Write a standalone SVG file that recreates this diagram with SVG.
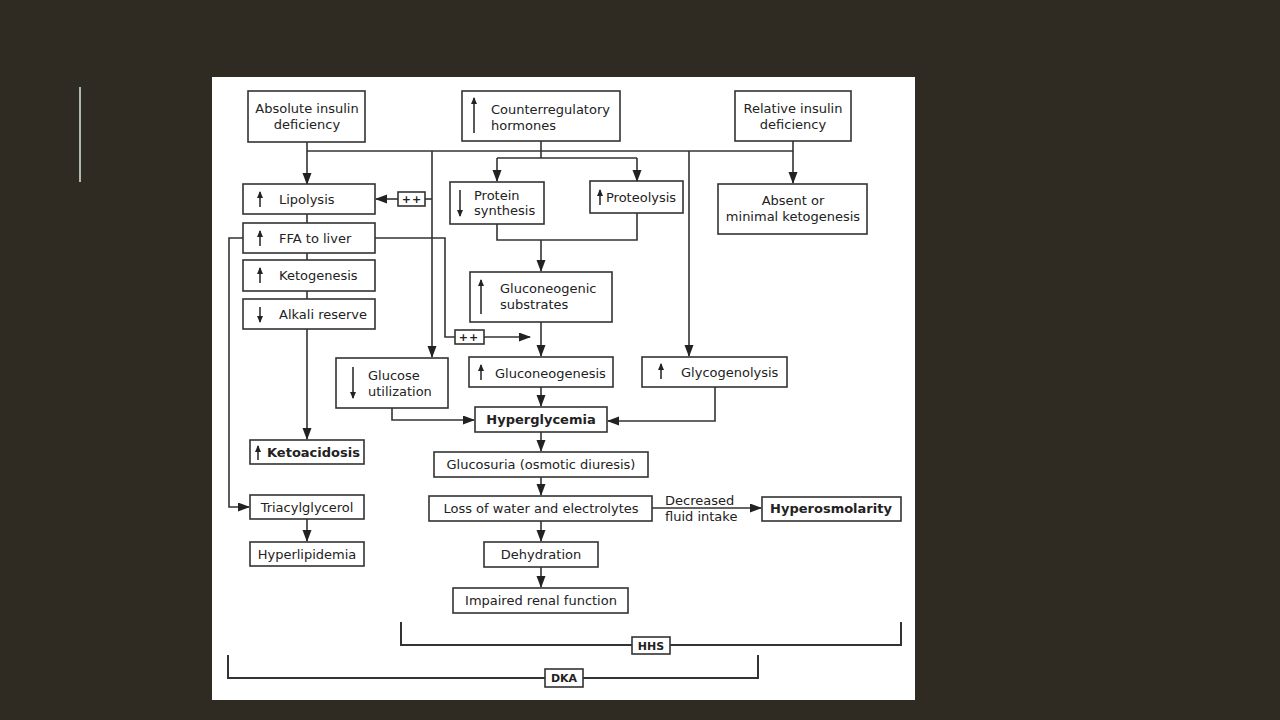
<svg xmlns="http://www.w3.org/2000/svg" width="1280" height="720" viewBox="0 0 1280 720">
<style>
.bx{fill:#fff;stroke:#333;stroke-width:1.6}
.ln{fill:none;stroke:#333;stroke-width:1.6}
.ar{fill:none;stroke:#333;stroke-width:1.6;marker-end:url(#ah)}
.ia{fill:none;stroke:#222;stroke-width:1.5;marker-end:url(#sm)}
text{font-family:"DejaVu Sans",Verdana,sans-serif;font-size:13px;fill:#222}
.c{text-anchor:middle}
.b{font-weight:bold}
.pp{font-weight:bold;font-size:11px;letter-spacing:1px}
</style>
<defs>
<marker id="ah" markerUnits="userSpaceOnUse" markerWidth="12" markerHeight="10" refX="11" refY="4.5" orient="auto"><path d="M0,0 L12,4.5 L0,9 z" fill="#222"/></marker>
<marker id="sm" markerUnits="userSpaceOnUse" markerWidth="8" markerHeight="8" refX="6" refY="3" orient="auto"><path d="M0,0 L7,3 L0,6 z" fill="#222"/></marker>
</defs>
<rect width="1280" height="720" fill="#2f2b22"/>
<line x1="80" y1="87" x2="80" y2="182" stroke="#a9bdb5" stroke-width="2"/>
<rect x="212" y="77" width="703" height="623" fill="#fff"/>

<g id="connectors">
<path class="ln" d="M307,151 H793"/>
<path class="ar" d="M307,142 V184"/>
<path class="ar" d="M432,151 V357"/>
<path class="ln" d="M541,141 V158 M497,158 H637"/>
<path class="ar" d="M497,158 V181"/>
<path class="ar" d="M637,158 V181"/>
<path class="ar" d="M689,151 V356"/>
<path class="ar" d="M793,141 V183"/>
<path class="ln" d="M425,199 H432"/>
<path class="ar" d="M398,199 H376"/>
<path class="ln" d="M307,214 V223 M307,253 V260 M307,291 V299"/>
<path class="ar" d="M307,329 V439"/>
<path class="ar" d="M243,238 H229 V507 H249"/>
<path class="ar" d="M307,519 V541"/>
<path class="ln" d="M375,238 H445 V337 H455"/>
<path class="ar" d="M484,337 H530"/>
<path class="ln" d="M497,224 V240 H637 V213"/>
<path class="ar" d="M541,240 V271"/>
<path class="ar" d="M541,322 V356"/>
<path class="ar" d="M541,387 V406"/>
<path class="ar" d="M715,387 V421 H608"/>
<path class="ar" d="M392,408 V420 H474"/>
<path class="ar" d="M541,432 V451"/>
<path class="ar" d="M541,477 V495"/>
<path class="ar" d="M652,508 H761"/>
<path class="ar" d="M541,521 V541"/>
<path class="ar" d="M541,567 V587"/>
<path class="ln" style="stroke-width:2" d="M401,622 V645 H901 V622"/>
<path class="ln" style="stroke-width:2" d="M228,655 V678 H758 V655"/>
</g>

<g id="absolute"><rect class="bx" x="248" y="91" width="117" height="51"/><text class="c" x="307" y="113">Absolute insulin</text><text class="c" x="307" y="129">deficiency</text></g>
<g id="counter"><rect class="bx" x="462" y="91" width="158" height="50"/><path class="ia" d="M474,133 V98"/><text x="491" y="114">Counterregulatory</text><text x="491" y="130">hormones</text></g>
<g id="relative"><rect class="bx" x="735" y="91" width="116" height="50"/><text class="c" x="793" y="113">Relative insulin</text><text class="c" x="793" y="129">deficiency</text></g>
<g id="lipolysis"><rect class="bx" x="243" y="184" width="132" height="30"/><path class="ia" d="M260,207 V192"/><text x="279" y="204">Lipolysis</text></g>
<g id="pp1"><rect class="bx" x="398" y="192" width="27" height="14"/><text class="c pp" x="412" y="203">++</text></g>
<g id="ffa"><rect class="bx" x="243" y="223" width="132" height="30"/><path class="ia" d="M260,246 V231"/><text x="279" y="243">FFA to liver</text></g>
<g id="ketogenesis"><rect class="bx" x="243" y="260" width="132" height="31"/><path class="ia" d="M260,283 V268"/><text x="279" y="280">Ketogenesis</text></g>
<g id="alkali"><rect class="bx" x="243" y="299" width="132" height="30"/><path class="ia" d="M260,307 V322"/><text x="279" y="319">Alkali reserve</text></g>
<g id="ketoacidosis"><rect class="bx" x="250" y="440" width="114" height="24"/><path class="ia" d="M258,460 V446"/><text class="b" x="267" y="457">Ketoacidosis</text></g>
<g id="triacyl"><rect class="bx" x="250" y="495" width="114" height="24"/><text class="c" x="307" y="512">Triacylglycerol</text></g>
<g id="hyperlipidemia"><rect class="bx" x="250" y="542" width="114" height="24"/><text class="c" x="307" y="559">Hyperlipidemia</text></g>
<g id="protein"><rect class="bx" x="450" y="182" width="94" height="42"/><path class="ia" d="M460,190 V216"/><text x="474" y="200">Protein</text><text x="474" y="215">synthesis</text></g>
<g id="proteolysis"><rect class="bx" x="590" y="181" width="93" height="32"/><path class="ia" d="M600,205 V190"/><text x="606" y="202">Proteolysis</text></g>
<g id="absent"><rect class="bx" x="718" y="184" width="149" height="50"/><text class="c" x="793" y="205">Absent or</text><text class="c" x="793" y="221">minimal ketogenesis</text></g>
<g id="substrates"><rect class="bx" x="470" y="272" width="142" height="50"/><path class="ia" d="M481,314 V280"/><text x="500" y="293">Gluconeogenic</text><text x="500" y="309">substrates</text></g>
<g id="pp2"><rect class="bx" x="455" y="330" width="29" height="14"/><text class="c pp" x="469" y="341">++</text></g>
<g id="gluconeogenesis"><rect class="bx" x="469" y="357" width="144" height="30"/><path class="ia" d="M481,380 V365"/><text x="495" y="378">Gluconeogenesis</text></g>
<g id="glycogenolysis"><rect class="bx" x="642" y="357" width="145" height="30"/><path class="ia" d="M661,379 V364"/><text x="681" y="377">Glycogenolysis</text></g>
<g id="glucoseutil"><rect class="bx" x="336" y="358" width="112" height="50"/><path class="ia" d="M353,367 V398"/><text x="368" y="380">Glucose</text><text x="368" y="396">utilization</text></g>
<g id="hyperglycemia"><rect class="bx" x="475" y="407" width="132" height="25"/><text class="c b" x="541" y="424">Hyperglycemia</text></g>
<g id="glucosuria"><rect class="bx" x="434" y="452" width="214" height="25"/><text class="c" x="541" y="469">Glucosuria (osmotic diuresis)</text></g>
<g id="loss"><rect class="bx" x="429" y="496" width="223" height="25"/><text class="c" x="541" y="513">Loss of water and electrolytes</text></g>
<g id="decreased"><text x="665" y="505">Decreased</text><text x="665" y="521">fluid intake</text></g>
<g id="hyperosmolarity"><rect class="bx" x="762" y="497" width="139" height="24"/><text class="c b" x="831" y="513">Hyperosmolarity</text></g>
<g id="dehydration"><rect class="bx" x="484" y="542" width="114" height="25"/><text class="c" x="541" y="559">Dehydration</text></g>
<g id="renal"><rect class="bx" x="453" y="588" width="175" height="25"/><text class="c" x="541" y="605">Impaired renal function</text></g>
<g id="hhs"><rect class="bx" x="632" y="637" width="38" height="17"/><text class="c b" style="font-size:11px" x="651" y="650">HHS</text></g>
<g id="dka"><rect class="bx" x="545" y="669" width="38" height="18"/><text class="c b" style="font-size:11px" x="564" y="682">DKA</text></g>
</svg>
